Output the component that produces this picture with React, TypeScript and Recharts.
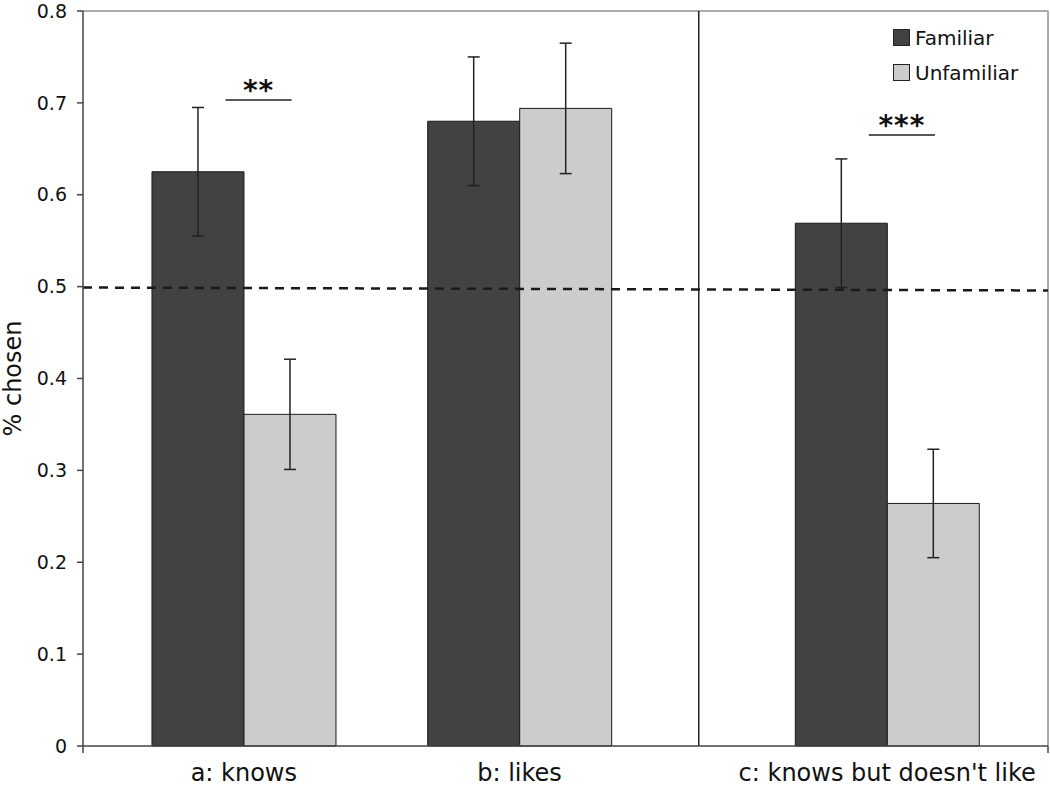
import React from "react";
import {
  ComposedChart,
  Bar,
  XAxis,
  YAxis,
  ErrorBar,
  ReferenceLine,
  Legend,
  Label,
} from "recharts";

// values
const categories = ["a: knows", "b: likes", "c: knows but doesn't like"];
const familiar = [0.625, 0.68, 0.569];
const unfamiliar = [0.361, 0.694, 0.264];
const familiarErr = [0.07, 0.07, 0.07];
const unfamiliarErr = [0.06, 0.071, 0.059];
const sigMarks = ["**", "", "***"];
const sigLevels = [0.703, 0, 0.665];
const yTicks = [0, 0.1, 0.2, 0.3, 0.4, 0.5, 0.6, 0.7, 0.8];
const chanceLine = [0.499, 0.4958];

// layout of the groups along x (in bar widths)
const groupPos = [1.75, 4.75, 8.75];
const xMax = 10.5;
const panelDivider = 6.7;
const bracketFrom = -0.2;
const bracketTo = 0.52;

const FONT = "DejaVu Sans, Verdana, sans-serif";
const DARK = "#424242";
const LIGHT = "#cccccc";
const AXIS = "#444444";

const data = categories.map((name, i) => ({
  name,
  pos: groupPos[i],
  familiar: familiar[i],
  unfamiliar: unfamiliar[i],
  famErr: familiarErr[i],
  unfErr: unfamiliarErr[i],
}));

const XTick = (props: any) => {
  const { x, y, payload } = props;
  const idx = groupPos.indexOf(payload.value);
  if (idx < 0) {
    return <line x1={x} x2={x} y1={y} y2={y + 7} stroke={AXIS} strokeWidth={1.5} />;
  }
  return (
    <text x={x} y={y + 35} textAnchor="middle" fontSize={24} fontFamily={FONT} fill="#111">
      {categories[idx]}
    </text>
  );
};

const YTitle = (props: any) => {
  const vb = props.viewBox || { x: 13, y: 11, width: 70, height: 735 };
  const cx = vb.x + 8;
  const cy = vb.y + vb.height / 2;
  return (
    <text
      x={cx}
      y={cy}
      transform={`rotate(-90, ${cx}, ${cy})`}
      textAnchor="middle"
      fontSize={24}
      fontFamily={FONT}
      fill="#111"
    >
      % chosen
    </text>
  );
};

const LegendBox = (props: any) => {
  const items = props.payload || [];
  return (
    <div style={{ fontFamily: FONT, fontSize: 20, color: "#111" }}>
      {items.map((it: any) => (
        <div key={it.value} style={{ display: "flex", alignItems: "center", height: 35 }}>
          <span
            style={{
              display: "inline-block",
              width: 15,
              height: 15,
              background: it.color,
              border: "1px solid #222",
              marginRight: 5,
            }}
          />
          <span>{it.value}</span>
        </div>
      ))}
    </div>
  );
};

export default function App() {
  return (
    <div style={{ position: "absolute", left: 0, top: 0, fontFamily: FONT }}>
      <ComposedChart
        width={1050}
        height={786}
        data={data}
        margin={{ top: 11, right: 2, bottom: 4, left: 13 }}
        barGap={0}
      >
        <XAxis
          dataKey="pos"
          type="number"
          domain={[0, xMax]}
          ticks={[0, ...groupPos, xMax]}
          interval={0}
          tickLine={false}
          tickSize={0}
          tickMargin={0}
          tick={<XTick />}
          height={36}
          stroke={AXIS}
          strokeWidth={1.5}
        />
        <YAxis
          type="number"
          domain={[0, 0.8]}
          ticks={yTicks}
          interval={0}
          width={70}
          tickSize={6}
          tickMargin={10}
          stroke={AXIS}
          strokeWidth={1.5}
          tick={{ fontSize: 19, fill: "#111", fontFamily: FONT }}
        >
          <Label content={<YTitle />} />
        </YAxis>
        <Legend
          layout="vertical"
          align="center"
          verticalAlign="middle"
          content={<LegendBox />}
          wrapperStyle={{ top: 20, left: 893, right: "auto", bottom: "auto", width: 160 }}
        />
        <ReferenceLine y={0.8} stroke="#aaaaaa" strokeWidth={2} />
        <ReferenceLine x={xMax} stroke="#aaaaaa" strokeWidth={2} />
        <Bar
          dataKey="familiar"
          name="Familiar"
          fill={DARK}
          stroke="#1a1a1a"
          strokeWidth={1}
          barSize={92}
          isAnimationActive={false}
        >
          <ErrorBar dataKey="famErr" width={6} stroke="#222" strokeWidth={1.5} />
        </Bar>
        <Bar
          dataKey="unfamiliar"
          name="Unfamiliar"
          fill={LIGHT}
          stroke="#1a1a1a"
          strokeWidth={1}
          barSize={92}
          isAnimationActive={false}
        >
          <ErrorBar dataKey="unfErr" width={6} stroke="#222" strokeWidth={1.5} />
        </Bar>
        <ReferenceLine x={panelDivider} stroke="#222" strokeWidth={1.5} />
        <ReferenceLine
          segment={[
            { x: 0, y: chanceLine[0] },
            { x: xMax, y: chanceLine[1] },
          ]}
          stroke="#1a1a1a"
          strokeWidth={2.5}
          strokeDasharray="9 7"
        />
        {sigMarks.map((m, i) =>
          m ? (
            <ReferenceLine
              key={i}
              segment={[
                { x: groupPos[i] + bracketFrom, y: sigLevels[i] },
                { x: groupPos[i] + bracketTo, y: sigLevels[i] },
              ]}
              stroke="#222"
              strokeWidth={1.5}
            >
              <Label
                value={m}
                position="top"
                offset={0}
                fontSize={28}
                fontWeight="bold"
                fontFamily={FONT}
                fill="#111"
                letterSpacing={1}
              />
            </ReferenceLine>
          ) : null
        )}
      </ComposedChart>
    </div>
  );
}
